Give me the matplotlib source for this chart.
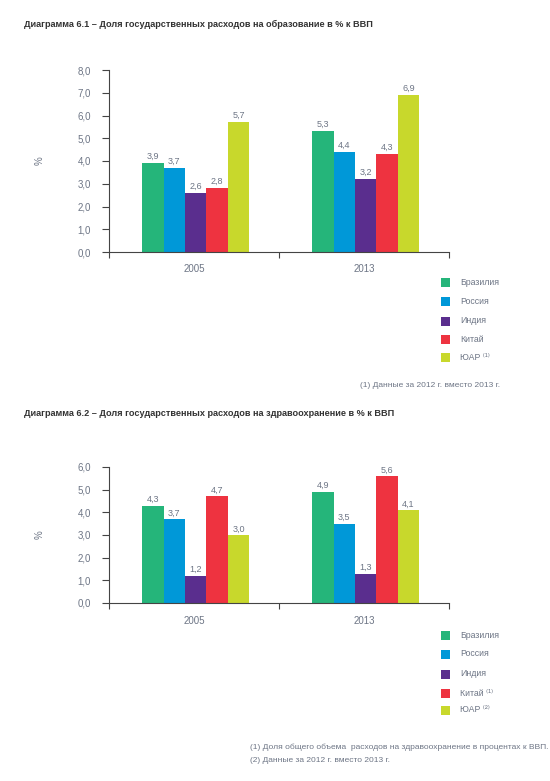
import numpy as np
import matplotlib.pyplot as plt
from matplotlib.patches import Rectangle

plt.rcParams['font.family'] = ['Liberation Sans Narrow', 'Liberation Sans', 'DejaVu Sans']

years = ['2005', '2013']
countries = ['Бразилия', 'Россия', 'Индия', 'Китай', 'ЮАР']
colors = ['#25b57a', '#0098d8', '#5a2e8e', '#ee3340', '#c8d82c']

edu_2005 = [3.9, 3.7, 2.6, 2.8, 5.7]
edu_2013 = [5.3, 4.4, 3.2, 4.3, 6.9]
health_2005 = [4.3, 3.7, 1.2, 4.7, 3.0]
health_2013 = [4.9, 3.5, 1.3, 5.6, 4.1]

legend1 = ['Бразилия', 'Россия', 'Индия', 'Китай', 'ЮАР ⁽¹⁾']
legend2 = ['Бразилия', 'Россия', 'Индия', 'Китай ⁽¹⁾', 'ЮАР ⁽²⁾']

title1 = 'Диаграмма 6.1 – Доля государственных расходов на образование в % к ВВП'
title2 = 'Диаграмма 6.2 – Доля государственных расходов на здравоохранение в % к ВВП'
notes1 = ['(1) Данные за 2012 г. вместо 2013 г.']
notes2 = ['(1) Доля общего объема  расходов на здравоохранение в процентах к ВВП.',
          '(2) Данные за 2012 г. вместо 2013 г.']

W, H = 550, 781
txt = '#6d7585'
axc = '#444444'

fig = plt.figure(figsize=(W / 100, H / 100), dpi=100)


def px(x, y):
    return x / W, 1 - y / H


def draw_chart(top, bottom, v2005, v2013, ymax, title, title_y, legend, leg_y, notes, note_xy, note_ha):
    ax = fig.add_axes([109 / W, 1 - bottom / H, 340 / W, (bottom - top) / H])
    bw = 0.126
    x = np.arange(len(years))
    for i, c in enumerate(countries):
        vals = [v2005[i], v2013[i]]
        bars = ax.bar(x + (i - 2) * bw + 0.01, vals, width=bw, color=colors[i], linewidth=0)
        for b, v in zip(bars, vals):
            ax.text(b.get_x() + b.get_width() / 2, v + ymax * 0.012, f'{v:.1f}'.replace('.', ','),
                    ha='center', va='bottom', fontsize=6.5, color=txt)
    ax.set_xlim(-0.5, 1.5)
    ax.set_ylim(0, ymax)
    ticks = np.arange(0, ymax + 0.1, 1.0)
    ax.set_yticks(ticks)
    ax.set_yticklabels([f'{t:.1f}'.replace('.', ',') for t in ticks])
    ax.set_xticks(x)
    ax.set_xticklabels(years)
    ax.set_xticks([-0.5, 0.5, 1.5], minor=True)
    ax.tick_params(axis='x', which='major', length=0, labelsize=7, labelcolor=txt, pad=9)
    ax.tick_params(axis='x', which='minor', length=4, width=0.8, color=axc)
    ax.tick_params(axis='y', length=5, width=0.8, color=axc, labelsize=7, labelcolor=txt, pad=8)
    for s in ['top', 'right']:
        ax.spines[s].set_visible(False)
    for s in ['left', 'bottom']:
        ax.spines[s].set_color(axc)
        ax.spines[s].set_linewidth(0.8)
    ax.set_ylabel('%', fontsize=7, color=txt)
    ax.yaxis.set_label_coords(-0.19, 0.5)

    fig.text(*px(24, title_y), title, fontsize=6.6, fontweight='bold', color='#333333',
             family=['Liberation Sans', 'DejaVu Sans'], va='center')

    for j, lab in enumerate(legend):
        x0, y0 = px(441, leg_y[j] + 5)
        fig.add_artist(Rectangle((x0, y0), 9 / W, 9 / H, transform=fig.transFigure,
                                 facecolor=colors[j], edgecolor='none'))
        fig.text(*px(460, leg_y[j]), lab, fontsize=6.3, color=txt, va='center')

    for k, n in enumerate(notes):
        fig.text(*px(note_xy[0], note_xy[1] + k * 13), n, fontsize=6, color=txt, va='center', ha=note_ha)
    return ax


draw_chart(70, 252, edu_2005, edu_2013, 8.0,
           title1, 24, legend1, [282, 301, 321, 339, 357], notes1, (500, 386), 'right')
draw_chart(467, 603, health_2005, health_2013, 6.0,
           title2, 414, legend2, [635, 654, 674, 693, 710], notes2, (250, 747), 'left')

fig.savefig('out.png', dpi=100, facecolor='white')
